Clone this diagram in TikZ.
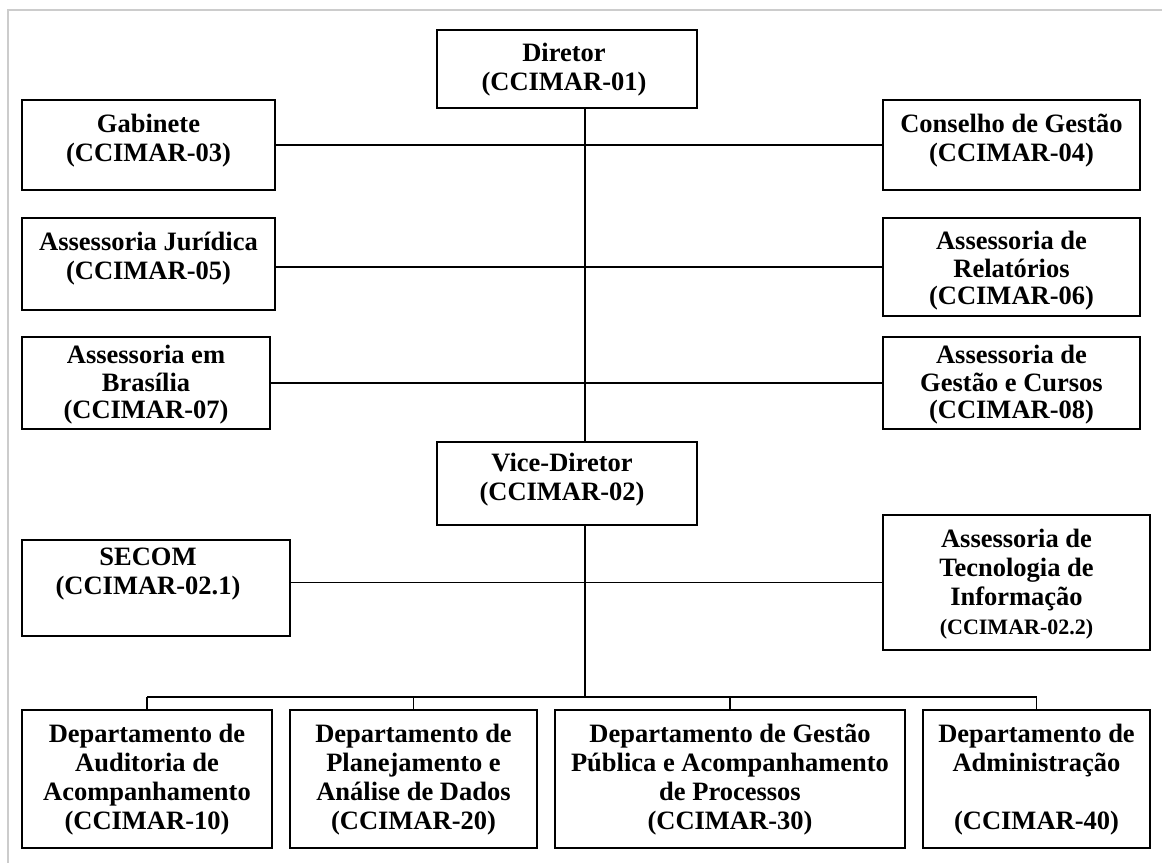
\documentclass[tikz,border=0pt]{standalone}
\usepackage{fontspec}
\setmainfont{Liberation Serif}
\begin{document}
\begin{tikzpicture}[x=1pt,y=-1pt,
  box/.style={draw=black, line width=1.8pt, inner sep=0pt, fill=white},
  txt/.style={align=center, font=\fontsize{26.5}{29}\selectfont\bfseries, inner sep=0pt, anchor=north},
  txtc/.style={txt, font=\fontsize{26.5}{27.5}\selectfont\bfseries},
  con/.style={line width=1.2pt, black}]
\useasboundingbox (0,0) rectangle (1162,863);
\draw[gray!40, line width=1.5pt] (1162,10) -- (8,10) -- (8,863);
% boxes
\node[box, minimum width=260, minimum height=78] (dir) at (567,69) {};
\node[box, minimum width=253, minimum height=90] (gab) at (148.5,145) {};
\node[box, minimum width=257, minimum height=90] (cons) at (1011.5,145) {};
\node[box, minimum width=253, minimum height=92] (jur) at (148.5,264) {};
\node[box, minimum width=257, minimum height=98] (rel) at (1011.5,267) {};
\node[box, minimum width=248, minimum height=92] (bra) at (146,383) {};
\node[box, minimum width=257, minimum height=92] (ges) at (1011.5,383) {};
\node[box, minimum width=260, minimum height=83] (vic) at (567,483.5) {};
\node[box, minimum width=268, minimum height=96] (sec) at (156,588) {};
\node[box, minimum width=267, minimum height=135] (ti) at (1016.5,582.5) {};
\node[box, minimum width=250, minimum height=138] (d10) at (147,779) {};
\node[box, minimum width=247, minimum height=138] (d20) at (413.5,779) {};
\node[box, minimum width=350, minimum height=138] (d30) at (730,779) {};
\node[box, minimum width=227, minimum height=138] (d40) at (1036.5,779) {};
% texts
\node[txt] (tdir) at ([xshift=-3pt,yshift=-14pt]dir.north) {Diretor\\(CCIMAR-01)};
\node[txt] (tgab) at ([yshift=-15pt]gab.north) {Gabinete\\(CCIMAR-03)};
\node[txt] (tcons) at ([yshift=-15pt]cons.north) {Conselho de Gestão\\(CCIMAR-04)};
\node[txt] (tjur) at ([yshift=-15pt]jur.north) {Assessoria Jurídica\\(CCIMAR-05)};
\node[txtc] (trel) at ([yshift=-14pt]rel.north) {Assessoria de\\Relatórios\\(CCIMAR-06)};
\node[txtc] (tbra) at ([yshift=-9pt]bra.north) {Assessoria em\\Brasília\\(CCIMAR-07)};
\node[txtc] (tges) at ([yshift=-9pt]ges.north) {Assessoria de\\Gestão e Cursos\\(CCIMAR-08)};
\node[txt] (tvic) at ([xshift=-5pt,yshift=-12pt]vic.north) {Vice-Diretor\\(CCIMAR-02)};
\node[txt] (tsec) at ([xshift=-8pt,yshift=-9pt]sec.north) {SECOM\\(CCIMAR-02.1)};
\node[txt] (tti) at ([yshift=-15pt]ti.north) {Assessoria de\\Tecnologia de\\Informação\\{\fontsize{22}{27}\selectfont (CCIMAR-02.2)}};
\node[txt] (td10) at ([yshift=-15pt]d10.north) {Departamento de\\Auditoria de\\Acompanhamento\\(CCIMAR-10)};
\node[txt] (td20) at ([yshift=-15pt]d20.north) {Departamento de\\Planejamento e\\Análise de Dados\\(CCIMAR-20)};
\node[txt] (td30) at ([yshift=-15pt]d30.north) {Departamento de Gestão\\Pública e Acompanhamento\\de Processos\\(CCIMAR-30)};
\node[txt] (td40) at ([yshift=-15pt]d40.north) {Departamento de\\Administração\\\mbox{}\\(CCIMAR-40)};
% connectors
\coordinate (sp) at (585,0);
\coordinate (bus) at (585,697);
\draw[con] (dir.south -| sp) -- (vic.north -| sp);
\draw[con] (vic.south -| sp) -- (bus);
\draw[con] (gab.east) -- (cons.west |- gab.east);
\draw[con] (jur.east |- rel.west) -- (rel.west);
\draw[con] (bra.east) -- (ges.west |- bra.east);
\draw[con] (sec.east |- ti.west) -- (ti.west);
\draw[con] (d10.north |- bus) -- (d40.north |- bus);
\draw[con] (d10.north |- bus) -- (d10.north);
\draw[con] (d20.north |- bus) -- (d20.north);
\draw[con] (d30.north |- bus) -- (d30.north);
\draw[con] (d40.north |- bus) -- (d40.north);
\end{tikzpicture}
\end{document}
